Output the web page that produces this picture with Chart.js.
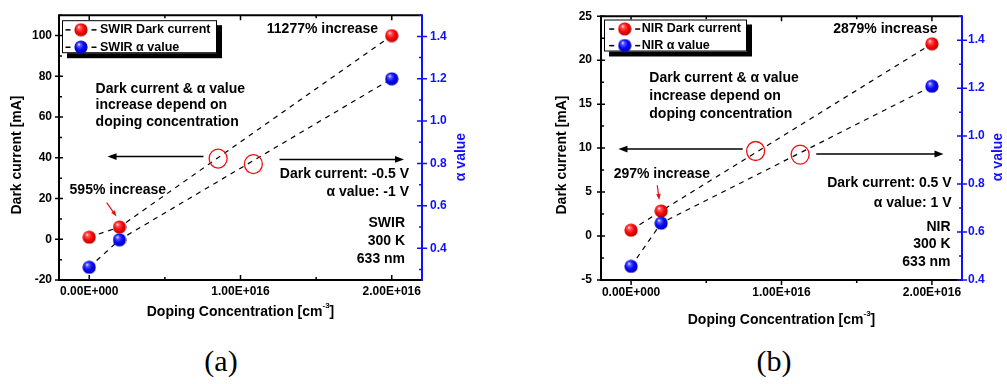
<!DOCTYPE html>
<html>
<head>
<meta charset="utf-8">
<script src="https://cdn.jsdelivr.net/npm/chart.js@4.4.1/dist/chart.umd.min.js"></script>
<style>
  body { margin: 0; background: #fff; width: 1007px; height: 384px; position: relative; overflow: hidden; }
  canvas { position: absolute; top: 0; }
  #chartA { left: 0; }
  #chartB { left: 540px; }
  .tag { position: absolute; top: 346px; width: 60px; text-align: center; line-height: 30px;
         font-family: 'Liberation Serif', 'Times New Roman', serif; font-size: 30px; color: #000; }
</style>
</head>
<body>
<canvas id="chartA" width="500" height="330"></canvas>
<canvas id="chartB" width="467" height="330"></canvas>
<div class="tag" style="left:191px">(a)</div>
<div class="tag" style="left:744px">(b)</div>
<script>
// doping concentration (cm^-3)
const doping = [0, 0.2e16, 2e16];

// SWIR panel
const swirDark = [1, 6, 100];
const swirAlpha = [0.31, 0.44, 1.2];

// NIR panel
const nirDark = [0.67, 2.85, 21.86];
const nirAlpha = [0.457, 0.637, 1.208];

const xTicks = [0, 1e16, 2e16];
const xTickLabels = ['0.00E+000', '1.00E+016', '2.00E+016'];
const swirDarkTicks = [-20, 0, 20, 40, 60, 80, 100];
const nirDarkTicks = [-5, 0, 5, 10, 15, 20, 25];
const alphaTicks = [0.4, 0.6, 0.8, 1.0, 1.2, 1.4];

const FONT = "'Liberation Sans', Arial, sans-serif";
const BLUE = '#1010ff';
const RED = '#ee1010';

function makeBall(light, base, dark) {
    const r = 7;
    const c = document.createElement('canvas');
    c.width = c.height = 2 * r;
    const g = c.getContext('2d');
    const grad = g.createRadialGradient(r - 2.2, r - 2.8, 0.2, r - 0.5, r - 0.5, r + 0.5);
    grad.addColorStop(0, '#ffffff');
    grad.addColorStop(0.18, light);
    grad.addColorStop(0.55, base);
    grad.addColorStop(1, dark);
    g.fillStyle = grad;
    g.beginPath();
    g.arc(r, r, r - 0.4, 0, Math.PI * 2);
    g.fill();
    return c;
}
const redBall = makeBall('#ff6060', '#ff0808', '#b00000');
const blueBall = makeBall('#6060ff', '#0808ff', '#0000a8');

function tickSets(scale) {
    const major = scale.ticks.map(t => t.value);
    const step = major[1] - major[0];
    const minor = [];
    for (let v = major[0] - step / 2; v <= scale.max + step * 1e-6; v += step) {
        if (v >= scale.min - step * 1e-6) minor.push(v);
    }
    return { major, minor };
}

function arrow(ctx, x1, y1, x2, y2, color, head, width) {
    const a = Math.atan2(y2 - y1, x2 - x1);
    ctx.strokeStyle = color;
    ctx.fillStyle = color;
    ctx.lineWidth = width;
    ctx.beginPath();
    ctx.moveTo(x1, y1);
    ctx.lineTo(x2 - Math.cos(a) * head * 0.8, y2 - Math.sin(a) * head * 0.8);
    ctx.stroke();
    ctx.beginPath();
    ctx.moveTo(x2, y2);
    ctx.lineTo(x2 - head * Math.cos(a) + head * 0.38 * Math.sin(a), y2 - head * Math.sin(a) - head * 0.38 * Math.cos(a));
    ctx.lineTo(x2 - head * Math.cos(a) - head * 0.38 * Math.sin(a), y2 - head * Math.sin(a) + head * 0.38 * Math.cos(a));
    ctx.closePath();
    ctx.fill();
}

function label(ctx, str, x, y, align, size, color) {
    ctx.font = 'bold ' + size + 'px ' + FONT;
    ctx.textAlign = align;
    ctx.textBaseline = 'middle';
    ctx.fillStyle = color;
    ctx.fillText(str, x, y);
}

const framePlugin = {
    id: 'frame',
    afterDraw(chart, args, o) {
        const ctx = chart.ctx;
        const { left, right, top, bottom } = chart.chartArea;
        const sx = chart.scales.x, sy = chart.scales.y, sa = chart.scales.y1;
        ctx.save();

        // axes box
        ctx.lineWidth = 2;
        ctx.strokeStyle = '#000';
        ctx.beginPath();
        ctx.moveTo(right, top);
        ctx.lineTo(left, top);
        ctx.lineTo(left, bottom);
        ctx.lineTo(right, bottom);
        ctx.stroke();

        // x ticks (bottom + mirrored top)
        const xs = tickSets(sx);
        const xd = o.xOut ? 1 : -1;
        ctx.lineWidth = 1.5;
        ctx.beginPath();
        xs.major.forEach(v => {
            const p = sx.getPixelForValue(v);
            ctx.moveTo(p, bottom); ctx.lineTo(p, bottom + xd * 5);
            ctx.moveTo(p, top); ctx.lineTo(p, top + 5);
        });
        xs.minor.forEach(v => {
            const p = sx.getPixelForValue(v);
            ctx.moveTo(p, bottom); ctx.lineTo(p, bottom + xd * 3);
            ctx.moveTo(p, top); ctx.lineTo(p, top + 3);
        });
        ctx.stroke();

        // left ticks
        const ys = tickSets(sy);
        ctx.beginPath();
        ys.major.forEach(v => {
            const p = sy.getPixelForValue(v);
            ctx.moveTo(left - 4, p); ctx.lineTo(left + 4, p);
        });
        ys.minor.forEach(v => {
            const p = sy.getPixelForValue(v);
            ctx.moveTo(left, p); ctx.lineTo(left + 3, p);
        });
        ctx.stroke();

        // right (alpha) axis in blue
        ctx.strokeStyle = BLUE;
        ctx.lineWidth = 2;
        ctx.beginPath();
        ctx.moveTo(right, top - 1);
        ctx.lineTo(right, bottom + 1);
        ctx.stroke();
        const as = tickSets(sa);
        ctx.lineWidth = 1.5;
        ctx.beginPath();
        as.major.forEach(v => {
            const p = sa.getPixelForValue(v);
            ctx.moveTo(right - 5, p); ctx.lineTo(right + 5, p);
        });
        as.minor.forEach(v => {
            const p = sa.getPixelForValue(v);
            ctx.moveTo(right - 3, p); ctx.lineTo(right, p);
        });
        ctx.stroke();

        // axis titles
        ctx.save();
        ctx.translate(o.leftTitle[0], o.leftTitle[1]);
        ctx.rotate(-Math.PI / 2);
        label(ctx, 'Dark current [mA]', 0, 0, 'center', 14, '#000');
        ctx.restore();
        ctx.save();
        ctx.translate(o.rightTitle[0], o.rightTitle[1]);
        ctx.rotate(-Math.PI / 2);
        label(ctx, 'α value', 0, 0, 'center', 14, BLUE);
        ctx.restore();

        ctx.font = 'bold 14px ' + FONT;
        const main = 'Doping Concentration [cm';
        const wMain = ctx.measureText(main).width;
        ctx.font = 'bold 8px ' + FONT;
        const wSup = ctx.measureText('-3').width;
        ctx.font = 'bold 14px ' + FONT;
        const wEnd = ctx.measureText(']').width;
        let tx = (left + right) / 2 - (wMain + wSup + wEnd) / 2;
        label(ctx, main, tx, o.xTitleY, 'left', 14, '#000');
        label(ctx, '-3', tx + wMain, o.xTitleY - 6, 'left', 8, '#000');
        label(ctx, ']', tx + wMain + wSup, o.xTitleY, 'left', 14, '#000');

        // annotations in data coordinates
        o.circles.forEach(c => {
            ctx.strokeStyle = RED;
            ctx.lineWidth = 1.3;
            ctx.beginPath();
            ctx.ellipse(sx.getPixelForValue(c.x), sy.getPixelForValue(c.y), 9, 9.5, 0, 0, Math.PI * 2);
            ctx.stroke();
        });
        o.arrows.forEach(a => {
            arrow(ctx, sx.getPixelForValue(a.x1), sy.getPixelForValue(a.y1),
                sx.getPixelForValue(a.x2), sy.getPixelForValue(a.y2), a.color, a.head, a.width);
        });
        o.texts.forEach(t => {
            const px = sx.getPixelForValue(t.x);
            const py = sy.getPixelForValue(t.y);
            t.lines.forEach((s, i) => label(ctx, s, px, py + i * (t.lh || 18), t.align, 14, '#000'));
        });

        // legend
        const lg = o.legend;
        const bx = left + lg.dx, by = top + lg.dy;
        ctx.fillStyle = '#000';
        ctx.fillRect(bx + 5, by + 5, lg.w, lg.h);
        ctx.fillStyle = '#fff';
        ctx.fillRect(bx, by, lg.w, lg.h);
        ctx.strokeStyle = '#000';
        ctx.lineWidth = 1;
        ctx.strokeRect(bx + 0.5, by + 0.5, lg.w - 1, lg.h - 1);
        chart.data.datasets.forEach((ds, i) => {
            const ry = by + lg.row0 + i * lg.rowGap;
            ctx.fillStyle = '#000';
            ctx.fillRect(bx + lg.dash0 - 2.5, ry - 0.6, 5, 1.5);
            ctx.fillRect(bx + lg.dash0 + 23.5, ry - 0.6, 5, 1.5);
            ctx.drawImage(ds.pointStyle, bx + lg.dash0 + 13 - 7, ry - 7);
            label(ctx, ds.label, bx + lg.text0, ry, 'left', 12.5, '#000');
        });

        ctx.restore();
    }
};

function buildChart(id, cfg) {
    const tickFont = { family: FONT, weight: 'bold', size: 12 };
    return new Chart(document.getElementById(id), {
        type: 'line',
        data: {
            datasets: [
                {
                    label: cfg.name + ' Dark current',
                    data: doping.map((x, i) => ({ x: x, y: cfg.dark[i] })),
                    yAxisID: 'y',
                    borderColor: '#000',
                    borderWidth: 1.2,
                    borderDash: [5, 5],
                    pointStyle: redBall,
                    pointRadius: 7,
                    order: 1,
                },
                {
                    label: cfg.name + ' α value',
                    data: doping.map((x, i) => ({ x: x, y: cfg.alpha[i] })),
                    yAxisID: 'y1',
                    borderColor: '#000',
                    borderWidth: 1.2,
                    borderDash: [5, 5],
                    pointStyle: blueBall,
                    pointRadius: 7,
                    order: 0,
                },
            ],
        },
        options: {
            responsive: false,
            animation: false,
            layout: { padding: { top: 10, left: 0, right: 0, bottom: 0 } },
            plugins: {
                legend: { display: false },
                tooltip: { enabled: false },
                frame: cfg.notes,
            },
            scales: {
                x: {
                    type: 'linear',
                    min: -0.2e16,
                    max: 2.2e16,
                    afterBuildTicks: s => { s.ticks = xTicks.map(v => ({ value: v })); },
                    afterFit: s => { s.height = 50; },
                    grid: { display: false, drawTicks: false },
                    border: { display: false },
                    ticks: {
                        callback: v => xTickLabels[xTicks.indexOf(v)],
                        padding: cfg.xPad,
                        font: tickFont,
                        color: '#000',
                        maxRotation: 0,
                        autoSkip: false,
                    },
                },
                y: {
                    position: 'left',
                    min: cfg.darkRange[0],
                    max: cfg.darkRange[1],
                    afterBuildTicks: s => { s.ticks = cfg.darkTicks.map(v => ({ value: v })); },
                    afterFit: s => { s.width = cfg.leftW; },
                    grid: { display: false, drawTicks: false },
                    border: { display: false },
                    ticks: { padding: cfg.leftPad, font: tickFont, color: '#000' },
                },
                y1: {
                    position: 'right',
                    min: cfg.alphaRange[0],
                    max: cfg.alphaRange[1],
                    afterBuildTicks: s => { s.ticks = alphaTicks.map(v => ({ value: v })); },
                    afterFit: s => { s.width = cfg.rightW; },
                    grid: { display: false, drawTicks: false },
                    border: { display: false },
                    ticks: {
                        callback: v => v.toFixed(1),
                        padding: cfg.rightPad,
                        font: tickFont,
                        color: BLUE,
                    },
                },
            },
        },
        plugins: [framePlugin],
    });
}

buildChart('chartA', {
    name: 'SWIR',
    dark: swirDark,
    alpha: swirAlpha,
    darkTicks: swirDarkTicks,
    darkRange: [-20, 110],
    alphaRange: [0.25, 1.5],
    leftW: 59, rightW: 78,
    leftPad: 7, rightPad: 8, xPad: 4,
    notes: {
        xOut: false,
        leftTitle: [17, 155],
        rightTitle: [461, 157],
        xTitleY: 312,
        legend: { dx: 3, dy: 5, w: 155, h: 33, row0: 9.5, rowGap: 17.4, dash0: 6, text0: 38 },
        texts: [
            { x: 1.91e16, y: 103.3, align: 'right', lines: ['11277% increase'] },
            { x: 0.042e16, y: 73.9, align: 'left', lh: 16.5,
              lines: ['Dark current & α value', 'increase depend on', 'doping concentration'] },
            { x: 2.114e16, y: 32, align: 'right', lines: ['Dark current: -0.5 V', 'α value: -1 V'] },
            { x: 2.088e16, y: 7.9, align: 'right', lh: 18, lines: ['SWIR', '300 K', '633 nm'] },
            { x: -0.13e16, y: 24.2, align: 'left', lines: ['595% increase'] },
        ],
        arrows: [
            { x1: 0.755e16, y1: 40.6, x2: 0.121e16, y2: 40.6, color: '#000', head: 9, width: 1.5 },
            { x1: 1.258e16, y1: 39.2, x2: 2.081e16, y2: 39.2, color: '#000', head: 9, width: 1.5 },
            { x1: 0.115e16, y1: 18, x2: 0.18e16, y2: 11.2, color: RED, head: 6, width: 1.2 },
        ],
        circles: [
            { x: 0.852e16, y: 39.6 },
            { x: 1.085e16, y: 36.9 },
        ],
    },
});

buildChart('chartB', {
    name: 'NIR',
    dark: nirDark,
    alpha: nirAlpha,
    darkTicks: nirDarkTicks,
    darkRange: [-5, 25],
    alphaRange: [0.4, 1.5],
    leftW: 61, rightW: 45,
    leftPad: 9, rightPad: 6, xPad: 5,
    notes: {
        xOut: true,
        leftTitle: [22, 155],
        rightTitle: [458, 157],
        xTitleY: 320,
        legend: { dx: 3, dy: 3.3, w: 143, h: 32, row0: 9.4, rowGap: 16.6, dash0: 7.7, text0: 37.7 },
        texts: [
            { x: 2.037e16, y: 23.56, align: 'right', lines: ['2879% increase'] },
            { x: 0.121e16, y: 18, align: 'left', lh: 18,
              lines: ['Dark current & α value', 'increase depend on', 'doping concentration'] },
            { x: 2.131e16, y: 6.0, align: 'right', lh: 19.7, lines: ['Dark current: 0.5 V', 'α value: 1 V'] },
            { x: 2.124e16, y: 1.0, align: 'right', lh: 17.3, lines: ['NIR', '300 K', '633 nm'] },
            { x: -0.116e16, y: 7.0, align: 'left', lines: ['297% increase'] },
        ],
        arrows: [
            { x1: 0.742e16, y1: 9.89, x2: -0.084e16, y2: 9.89, color: '#000', head: 9, width: 1.5 },
            { x1: 1.231e16, y1: 9.33, x2: 2.077e16, y2: 9.33, color: '#000', head: 9, width: 1.5 },
            { x1: 0.174e16, y1: 5.78, x2: 0.187e16, y2: 4.11, color: RED, head: 6, width: 1.2 },
        ],
        circles: [
            { x: 0.828e16, y: 9.67 },
            { x: 1.124e16, y: 9.26 },
        ],
    },
});
</script>
</body>
</html>
